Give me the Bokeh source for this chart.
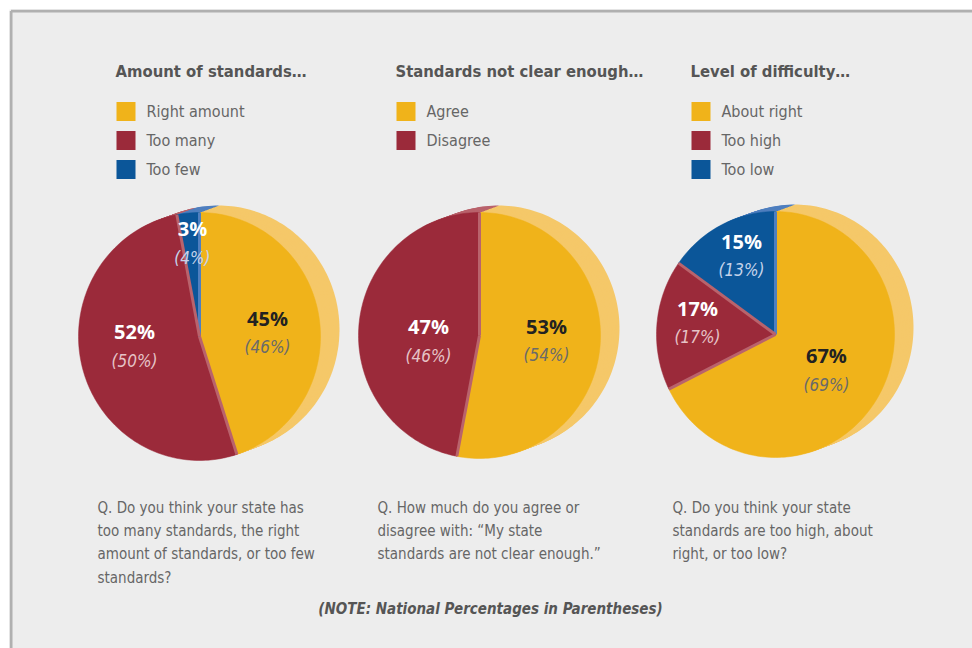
import numpy as np
from bokeh.plotting import figure
from bokeh.models import Range1d, ColumnDataSource
from bokeh.core.properties import value
from bokeh.embed import file_html
from bokeh.resources import INLINE

# ---------------- data ----------------
titles = ["Amount of standards\u2026", "Standards not clear enough\u2026", "Level of difficulty\u2026"]
cats1 = ["Right amount", "Too many", "Too few"]
state1 = [45, 52, 3]
national1 = [46, 50, 4]
cats2 = ["Agree", "Disagree"]
state2 = [53, 47]
national2 = [54, 46]
cats3 = ["About right", "Too high", "Too low"]
state3 = [67, 17, 15]
national3 = [69, 17, 13]
questions = [
    ["Q. Do you think your state has", "too many standards, the right",
     "amount of standards, or too few", "standards?"],
    ["Q. How much do you agree or", "disagree with: \u201cMy state",
     "standards are not clear enough.\u201d"],
    ["Q. Do you think your state", "standards are too high, about", "right, or too low?"],
]
note = "(NOTE: National Percentages in Parentheses)"

# ---------------- style ----------------
COL = ["#f0b31a", "#9b2a3a", "#0b5699"]
LIGHT = ["#f5c869", "#b9636c", "#4f7fbf"]
VAL_COL = ["#222222", "#ffffff", "#ffffff"]
NAT_COL = ["#6a6a6a", "#e6c3c7", "#c5d3ea"]
COND = "DejaVu Sans Condensed"
ROUND = "Open Sans"

panels = [
    dict(cats=cats1, state=state1, nat=national1, tx=115, cx=199, cy=336, rx=121, ry=124, qx=97,
         lab_r=[0.563, 0.542, 0.76], lab_da=[5.7, 6.7, 1.0]),
    dict(cats=cats2, state=state2, nat=national2, tx=395, cx=479, cy=335, rx=121, ry=123, qx=377,
         lab_r=[0.555, 0.423], lab_da=[-1.2, -11.0]),
    dict(cats=cats3, state=state3, nat=national3, tx=690, cx=775, cy=334, rx=119, ry=123, qx=672,
         lab_r=[0.514, 0.663, 0.703], lab_da=[1.8, 4.0, 3.3]),
]
DX, DY = 19, -7
W, H = 972, 648
M = 9  # white margin left/top

p = figure(width=W, height=H, output_backend="svg", toolbar_location=None,
           x_range=Range1d(M, W), y_range=Range1d(H, M),
           x_axis_type=None, y_axis_type=None,
           min_border_left=M, min_border_top=M, min_border_right=0, min_border_bottom=0)
p.grid.visible = False
p.outline_line_color = None
p.background_fill_color = "#ededed"
p.border_fill_color = "#ffffff"

# left/top border of the panel
p.multi_line([[10.5, 10.5], [10.5, W + 20]], [[H + 20, 10.5], [10.5, 10.5]],
             line_color="#b0b0b0", line_width=3)


def wedge_poly(cx, cy, rx, ry, a0, a1):
    th = np.linspace(a0, a1, max(8, int(abs(a1 - a0) / 1.5)))
    r = np.radians(th)
    xs = np.concatenate([[cx], cx + rx * np.sin(r), [cx]])
    ys = np.concatenate([[cy], cy - ry * np.cos(r), [cy]])
    return list(xs), list(ys)


for pn, title in zip(panels, titles):
    vals = np.array(pn["state"], dtype=float)
    ang = vals / vals.sum() * 360.0
    ends = np.cumsum(ang)
    starts = ends - ang
    cx, cy, rx, ry = pn["cx"], pn["cy"], pn["rx"], pn["ry"]
    n = len(vals)

    # depth (back face sweep)
    xs, ys, cs = [], [], []
    N = 14
    for k in range(N, 0, -1):
        t = k / N
        for i in range(n):
            x, y = wedge_poly(cx + t * DX, cy + t * DY, rx, ry, starts[i], ends[i])
            xs.append(x); ys.append(y); cs.append(LIGHT[i])
    p.patches(xs, ys, fill_color=cs, line_color=None)

    # front face
    xs, ys, cs = [], [], []
    for i in range(n):
        x, y = wedge_poly(cx, cy, rx, ry, starts[i], ends[i])
        xs.append(x); ys.append(y); cs.append(COL[i])
    p.patches(xs, ys, fill_color=cs, line_color=cs, line_width=0.5)

    # slice side strips at boundaries
    bx, by, bc = [], [], []
    for i in range(n):
        r = np.radians(starts[i])
        j = (i - 1) % n if np.cos(r) > 0 else i
        bx.append([cx, cx + rx * np.sin(r)])
        by.append([cy, cy - ry * np.cos(r)])
        bc.append(LIGHT[j])
    p.multi_line(bx, by, line_color=bc, line_width=3)

    # labels
    mids = np.radians((starts + ends) / 2 + np.array(pn["lab_da"]))
    lr = np.array(pn["lab_r"])
    lx = cx + lr * rx * np.sin(mids)
    ly = cy - lr * ry * np.cos(mids)
    src = ColumnDataSource(dict(
        x=lx, y1=ly - 14, y2=ly + 15,
        v=[f"{v}%" for v in pn["state"]], nv=[f"({v}%)" for v in pn["nat"]],
        c1=VAL_COL[:n], c2=NAT_COL[:n]))
    p.text("x", "y1", text="v", source=src, text_color="c1", text_align="center",
           text_baseline="middle", text_font=value(ROUND), text_font_style="bold",
           text_font_size=value("20px"))
    p.text("x", "y2", text="nv", source=src, text_color="c2", text_align="center",
           text_baseline="middle", text_font=value(COND), text_font_style="italic",
           text_font_size=value("17px"))

    # title
    p.text(x=[pn["tx"]], y=[71], text=[title], text_color="#555555", text_align="left",
           text_baseline="middle", text_font=value(COND), text_font_style="bold",
           text_font_size=value("16.5px"))

    # legend
    ly_leg = 111 + 29 * np.arange(n)
    p.rect(x=[pn["tx"] + 10.5] * n, y=list(ly_leg), width=19, height=19,
           fill_color=COL[:n], line_color=None)
    p.text(x=[pn["tx"] + 31] * n, y=list(ly_leg), text=pn["cats"], text_color="#666666",
           text_align="left", text_baseline="middle", text_font=value(COND),
           text_font_size=value("16px"))

# questions
for pn, q in zip(panels, questions):
    p.text(x=[pn["qx"]] * len(q), y=list(507 + 23.4 * np.arange(len(q))), text=q,
           text_color="#666666", text_align="left", text_baseline="middle",
           text_font=value(COND), text_font_size=value("15px"))

p.text(x=[490], y=[608], text=[note], text_color="#555555", text_align="center",
       text_baseline="middle", text_font=value(COND), text_font_style="bold italic",
       text_font_size=value("15px"))

open("out.html", "w").write(file_html(p, INLINE))
